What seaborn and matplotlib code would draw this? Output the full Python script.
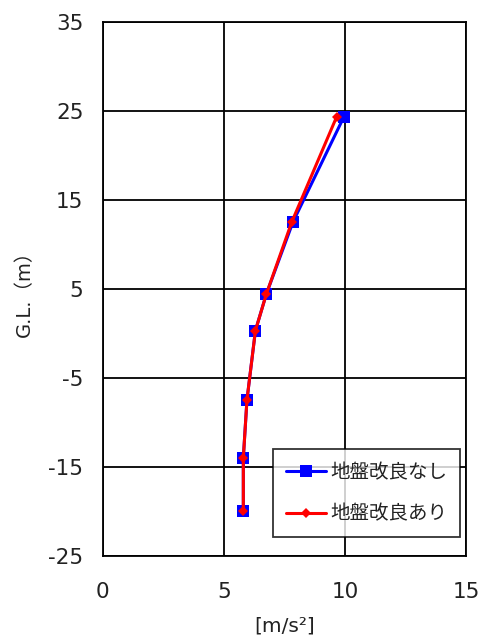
import matplotlib
matplotlib.use("Agg")
import matplotlib.pyplot as plt
import seaborn as sns
import pandas as pd

depth = [24.3, 12.5, 4.4, 0.3, -7.5, -14.0, -20.0]
acc_without = [9.95, 7.85, 6.75, 6.3, 5.95, 5.8, 5.8]
acc_with = [9.65, 7.8, 6.75, 6.3, 5.95, 5.8, 5.8]
series_names = ["地盤改良なし", "地盤改良あり"]
xticks = [0, 5, 10, 15]
yticks = [-25, -15, -5, 5, 15, 25, 35]

sns.set_theme(style="white")
plt.rcParams['font.family'] = ['DejaVu Sans', 'Noto Sans CJK JP']
plt.rcParams['axes.unicode_minus'] = False

df = pd.concat([
    pd.DataFrame({"acc": acc_without, "depth": depth, "series": series_names[0]}),
    pd.DataFrame({"acc": acc_with, "depth": depth, "series": series_names[1]}),
])

fig = plt.figure(figsize=(4.83, 6.41), dpi=100)
ax = fig.add_axes([0.213, 0.133, 0.752, 0.833])

sns.lineplot(data=df, x="acc", y="depth", hue="series", style="series",
             palette={series_names[0]: "#0000FF", series_names[1]: "#FF0000"},
             markers={series_names[0]: "s", series_names[1]: "D"},
             dashes=False, sort=False, estimator=None, linewidth=2.2,
             markersize=8, markeredgewidth=0, ax=ax, legend=True)
for line in ax.lines:
    if line.get_color() in ("#FF0000", (1.0, 0.0, 0.0, 1.0)):
        line.set_markersize(5.5)

ax.set_xlim(0, 15)
ax.set_ylim(-25, 35)
ax.set_xticks(xticks)
ax.set_yticks(yticks)
ax.grid(True, color="black", linewidth=1.3)
ax.set_axisbelow(True)
for s in ax.spines.values():
    s.set_color("black")
    s.set_linewidth(1.3)
ax.tick_params(length=0, labelsize=15.5, colors="#222222")
ax.tick_params(axis="x", pad=19)
ax.tick_params(axis="y", pad=14)
ax.set_xlabel("[m/s²]", fontsize=14.5, color="#222222", labelpad=10)
ax.set_ylabel("G.L.（m）", fontsize=14, color="#222222", labelpad=10,
              fontfamily=['DejaVu Sans', 'Noto Sans CJK JP'])

handles, labels = ax.get_legend_handles_labels()
for h in handles:
    if h.get_color() in ("#FF0000", (1.0, 0.0, 0.0, 1.0)):
        h.set_markersize(5.5)
leg = ax.legend(handles, labels, loc="lower right", bbox_to_anchor=(0.983, 0.035),
                frameon=True, fancybox=False, edgecolor="black",
                prop={'family': ['Noto Sans CJK JP', 'DejaVu Sans'], 'size': 14},
                borderpad=0.65, labelspacing=1.05, handlelength=2.1, handletextpad=0.2,
                borderaxespad=0)
leg.get_frame().set_linewidth(1.3)
for t in leg.get_texts():
    t.set_color("#222222")

fig.savefig("out.png", dpi=100)
